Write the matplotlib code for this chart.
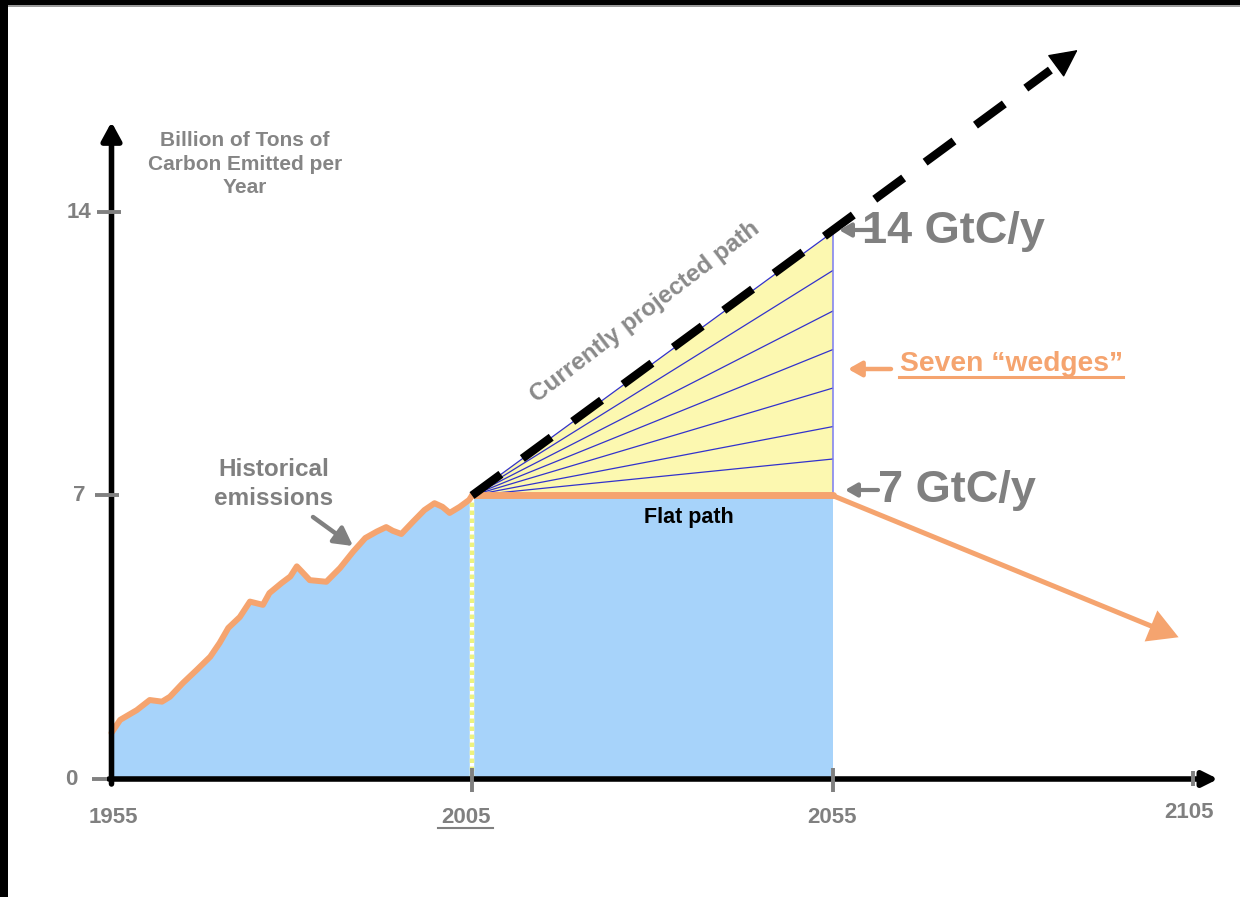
import matplotlib
matplotlib.use("Agg")
import numpy as np
import matplotlib.pyplot as plt
from matplotlib.patches import FancyArrowPatch, Rectangle
from matplotlib.lines import Line2D

# ---------------- data ----------------
hist_years = [1955, 1956.2, 1958.5, 1960.3, 1962.0, 1963.1, 1964.9, 1966.8, 1968.7,
              1970.0, 1971.2, 1972.8, 1974.2, 1976.0, 1976.9, 1978.6, 1979.8, 1980.7,
              1981.4, 1982.5, 1984.8, 1986.7, 1988.5, 1990.2, 1991.8, 1993.1, 1994.0,
              1995.2, 1996.8, 1998.4, 1999.8, 2000.9, 2001.9, 2003.3, 2004.6, 2005]
hist_values = [1.14, 1.46, 1.70, 1.95, 1.91, 2.03, 2.37, 2.69, 3.02,
               3.36, 3.73, 4.00, 4.38, 4.30, 4.59, 4.84, 5.00, 5.25,
               5.12, 4.91, 4.87, 5.21, 5.61, 5.95, 6.11, 6.22, 6.13,
               6.05, 6.35, 6.64, 6.81, 6.72, 6.57, 6.72, 6.89, 7.0]
proj_years = [2005, 2089]
proj_values = [7.0, 18.0]
wedge_start_year = 2005
wedge_end_year = 2055
wedge_end_values = [13.5, 12.55, 11.55, 10.6, 9.65, 8.7, 7.9]
flat_years = [2005, 2055]
flat_values = [7.0, 7.0]
decline_years = [2055, 2103]
decline_values = [7.0, 3.5]
x_ticks = [1955, 2005, 2055, 2105]
x_tick_labels = ["1955", "2005", "2055", "2105"]
y_ticks = [0, 7, 14]
y_tick_labels = ["0", "7", "14"]

# ---------------- styling ----------------
BLUE = "#A7D3FA"
YELLOW = "#FCF8B0"
ORANGE = "#F5A46F"
GRAY = "#808080"
WEDGE = "#3232CC"
FONT = "Liberation Sans"

W, H = 1240, 897
fig = plt.figure(figsize=(W / 100, H / 100), dpi=100)
ax = fig.add_axes([0, 0, 1, 1])

PX_PER_YEAR, X0PX = 7.21, 111.5
PX_PER_UNIT, Y0PX = 40.5, 779.0


def X(px):
    return 1955 + (px - X0PX) / PX_PER_YEAR


def Y(py):
    return (Y0PX - py) / PX_PER_UNIT


ax.set_xlim(X(0), X(W))
ax.set_ylim(Y(H), Y(0))
ax.axis("off")

# fills
ax.fill_between(hist_years, 0, hist_values, color=BLUE, lw=0, zorder=1)
ax.fill_between(flat_years, 0, flat_values, color=BLUE, lw=0, zorder=1)
ax.fill([wedge_start_year, wedge_end_year, wedge_end_year],
        [flat_values[0], flat_values[1], wedge_end_values[0]], color=YELLOW, lw=0, zorder=1)

# wedge lines
for v in wedge_end_values:
    ax.plot([wedge_start_year, wedge_end_year], [flat_values[0], v], color=WEDGE, lw=0.9, zorder=2)
ax.plot([wedge_end_year, wedge_end_year], [flat_values[1], wedge_end_values[0]],
        color="#7C7CF0", lw=1.1, zorder=2)

# dotted line at 2005
ax.plot([2005, 2005], [0, 7], color="white", lw=3.2, zorder=2)
ax.plot([2005, 2005], [0, 7], color="#EEF37E", lw=3.2, ls=(0, (1, 0.8)), zorder=3)

# orange lines
ax.plot(hist_years, hist_values, color=ORANGE, lw=4.3, solid_joinstyle="round",
        solid_capstyle="round", zorder=4)
ax.plot(flat_years, flat_values, color=ORANGE, lw=5.0, solid_capstyle="round", zorder=4)
ax.add_patch(FancyArrowPatch((decline_years[0], decline_values[0]),
                             (decline_years[1], decline_values[1]),
                             arrowstyle="-|>,head_length=16,head_width=9", mutation_scale=1,
                             color=ORANGE, lw=3.6, shrinkA=0, shrinkB=0, zorder=4,
                             joinstyle="miter", capstyle="butt"))

# dashed projected path with arrow head
t_line = 0.955
t_head = 0.965
xe = proj_years[0] + (proj_years[1] - proj_years[0]) * t_line
ye = proj_values[0] + (proj_values[1] - proj_values[0]) * t_line
xh = proj_years[0] + (proj_years[1] - proj_years[0]) * t_head
yh = proj_values[0] + (proj_values[1] - proj_values[0]) * t_head
ax.plot([proj_years[0], xe], [proj_values[0], ye], color="black", lw=6.0,
        ls=(0, (4.3, 3.2)), dash_capstyle="butt", zorder=5)
ax.add_patch(FancyArrowPatch((xh, yh), (proj_years[1], proj_values[1]),
                             arrowstyle="-|>,head_length=18,head_width=9", mutation_scale=1,
                             color="black", lw=1, shrinkA=0, shrinkB=0, zorder=5))

# axes with arrows
ax.add_patch(FancyArrowPatch((1955, Y(784)), (1955, Y(122)),
                             arrowstyle="-|>,head_length=11,head_width=6", mutation_scale=1,
                             color="black", lw=4.0, shrinkA=0, shrinkB=0, zorder=6))
ax.add_patch(FancyArrowPatch((X(109), 0), (X(1218), 0),
                             arrowstyle="-|>,head_length=9,head_width=4.5", mutation_scale=1,
                             color="black", lw=4.0, shrinkA=0, shrinkB=0, zorder=6))

# tick marks
ytick_spans = {0: (92, 107), 7: (95, 119), 14: (97, 121)}
for v in y_ticks:
    a, b = ytick_spans[v]
    ax.plot([X(a), X(b)], [v, v], color=GRAY, lw=2.8, solid_capstyle="butt", zorder=7)
xtick_spans = {2005: (768, 792), 2055: (768, 792), 2105: (771, 786)}
for xv, (a, b) in xtick_spans.items():
    ax.plot([xv, xv], [Y(a), Y(b)], color=GRAY, lw=2.8, solid_capstyle="butt", zorder=7)

# tick labels
ylab_right = {0: 77, 7: 85, 14: 91}
for v, s in zip(y_ticks, y_tick_labels):
    ax.text(X(ylab_right[v]), v, s, ha="right", va="center", fontsize=16,
            fontweight="bold", color=GRAY, family=FONT, zorder=8)
xlab_y = {1955: 817, 2005: 817, 2055: 817, 2105: 812}
xlab_dx = {1955: 2, 2005: -6, 2055: 0, 2105: -4}
for xv, s in zip(x_ticks, x_tick_labels):
    ax.text(xv + xlab_dx[xv] / PX_PER_YEAR, Y(xlab_y[xv]), s, ha="center", va="center",
            fontsize=16, fontweight="bold", color=GRAY, family=FONT, zorder=8)
# underline of 2005
fig.add_artist(Line2D([438 / W, 493 / W], [1 - 828 / H, 1 - 828 / H], color=GRAY, lw=1.5))


def FT(px, py, s, **kw):
    kw.setdefault("family", FONT)
    return fig.text(px / W, 1 - py / H, s, **kw)


# annotations
FT(245, 164, "Billion of Tons of\nCarbon Emitted per\nYear", ha="center", va="center",
   fontsize=15, fontweight="bold", color="#858585", linespacing=1.3)
FT(274, 484, "Historical\nemissions", ha="center", va="center", fontsize=17.5,
   fontweight="bold", color=GRAY, linespacing=1.3)
ax.add_patch(FancyArrowPatch((X(313), Y(517)), (X(353), Y(546)),
                             arrowstyle="-|>,head_length=11,head_width=6", mutation_scale=1,
                             color=GRAY, lw=3.2, shrinkA=0, shrinkB=0, zorder=8))
FT(645, 312, "Currently projected path", ha="center", va="center", rotation=37.5,
   rotation_mode="anchor", fontsize=17.5, fontweight="bold", color="#8A8A8A")

FT(862, 232, "14 GtC/y", ha="left", va="center", fontsize=32.5, fontweight="bold", color=GRAY)
ax.add_patch(FancyArrowPatch((X(872), Y(230)), (X(839), Y(230)),
                             arrowstyle="-|>,head_length=7,head_width=4", mutation_scale=1,
                             color=GRAY, lw=3.0, shrinkA=0, shrinkB=0, zorder=8))
FT(878, 490, "7 GtC/y", ha="left", va="center", fontsize=32.5, fontweight="bold", color=GRAY)
ax.add_patch(FancyArrowPatch((X(878), Y(490)), (X(845), Y(490)),
                             arrowstyle="-|>,head_length=7,head_width=4", mutation_scale=1,
                             color=GRAY, lw=3.0, shrinkA=0, shrinkB=0, zorder=8))

FT(900, 364, "Seven \u201cwedges\u201d", ha="left", va="center", fontsize=20.3,
   fontweight="bold", color=ORANGE)
fig.add_artist(Line2D([899 / W, 1123 / W], [1 - 377 / H, 1 - 377 / H], color=ORANGE, lw=2.2))
ax.add_patch(FancyArrowPatch((X(891), Y(369)), (X(848), Y(369)),
                             arrowstyle="-|>,head_length=8,head_width=4.5", mutation_scale=1,
                             color=ORANGE, lw=3.2, shrinkA=0, shrinkB=0, zorder=8))

FT(689, 518, "Flat path", ha="center", va="center", fontsize=15.5, fontweight="bold",
   color="black")

# black frame at top and left
fig.add_artist(Rectangle((0, 1 - 5 / H), 1, 5 / H, transform=fig.transFigure,
                         color="black", lw=0, zorder=20))
fig.add_artist(Rectangle((0, 1 - 7 / H), 1, 2 / H, transform=fig.transFigure,
                         color="#9A9A9A", lw=0, zorder=19))
fig.add_artist(Rectangle((0, 0), 8 / W, 1, transform=fig.transFigure,
                         color="black", lw=0, zorder=21))

fig.savefig("out.png", dpi=100)
